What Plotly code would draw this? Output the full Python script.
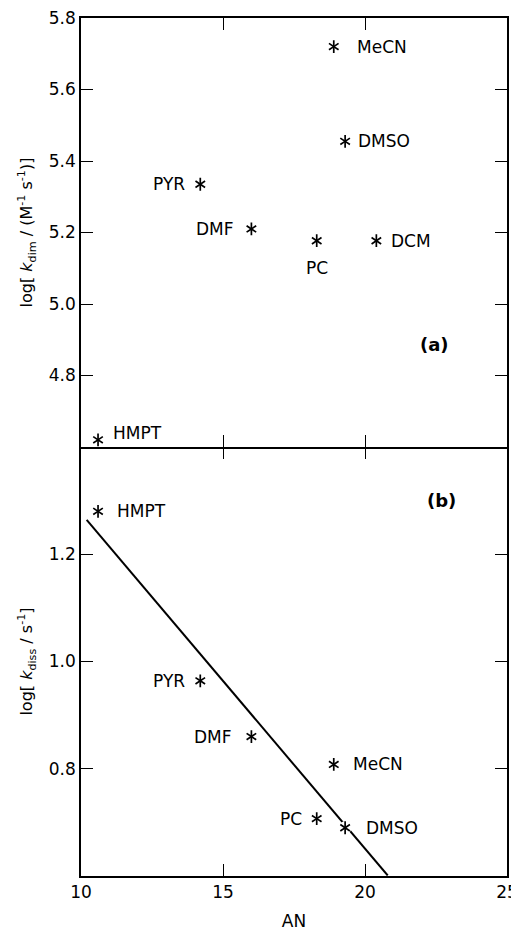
import plotly.graph_objects as go
from plotly.subplots import make_subplots

# ---- data (panel a) ----
solvents_a = ["MeCN", "DMSO", "PYR", "DMF", "PC", "DCM", "HMPT"]
an_a = [18.9, 19.3, 14.2, 16.0, 18.3, 20.4, 10.6]
logk_dim = [5.72, 5.455, 5.335, 5.21, 5.177, 5.177, 4.62]

# ---- data (panel b) ----
solvents_b = ["HMPT", "PYR", "DMF", "MeCN", "PC", "DMSO"]
an_b = [10.6, 14.2, 16.0, 18.9, 18.3, 19.3]
logk_diss = [1.28, 0.964, 0.86, 0.808, 0.707, 0.69]

# ---- regression line (panel b) ----
fit_an = [10.2, 20.8]
fit_logk = [1.264, 0.601]

x_range = [10, 25]
x_ticks = [10, 15, 20, 25]
y_ticks_a = [4.8, 5.0, 5.2, 5.4, 5.6, 5.8]
y_ticks_b = [0.8, 1.0, 1.2]

# label placement styles: (xanchor, xshift, yshift)
place_a = {
    "MeCN": ("left", 21, 0), "DMSO": ("left", 11, 0), "PYR": ("right", -13, 0),
    "DMF": ("right", -15, 0), "PC": ("center", 0, -27), "DCM": ("left", 13, 0),
    "HMPT": ("left", 13, 7),
}
place_b = {
    "HMPT": ("left", 17, 0), "PYR": ("right", -13, 0), "DMF": ("right", -17, 0),
    "MeCN": ("left", 17, 0), "PC": ("right", -13, 0), "DMSO": ("left", 19, 0),
}

FONT = "DejaVu Sans, Liberation Sans, sans-serif"
BLACK = "black"
LW = 1.5

fig = make_subplots(rows=2, cols=1, shared_xaxes=True, vertical_spacing=0)


def add_stars(xs, ys, row):
    for sym in ("y-up-open", "y-down-open"):
        fig.add_trace(go.Scatter(
            x=xs, y=ys, mode="markers",
            marker=dict(symbol=sym, size=8, color=BLACK,
                        line=dict(color=BLACK, width=1.7)),
            hoverinfo="skip", showlegend=False), row=row, col=1)


# panel a
add_stars(an_a, logk_dim, 1)

# panel b: line, white gap behind DMSO, then stars
fig.add_trace(go.Scatter(x=fit_an, y=fit_logk, mode="lines",
                         line=dict(color=BLACK, width=2), hoverinfo="skip",
                         showlegend=False), row=2, col=1)
i_dmso = solvents_b.index("DMSO")
fig.add_trace(go.Scatter(x=[an_b[i_dmso]], y=[logk_diss[i_dmso]], mode="markers",
                         marker=dict(symbol="circle", size=13, color="white"),
                         hoverinfo="skip", showlegend=False), row=2, col=1)
add_stars(an_b, logk_diss, 2)

# invisible trace carrying the top-edge tick axis of panel b
fig.add_trace(go.Scatter(x=x_range, y=[0.6, 0.6], xaxis="x3", yaxis="y2",
                         mode="markers", marker=dict(opacity=0),
                         hoverinfo="skip", showlegend=False))

annotations = []
for name, xv, yv in zip(solvents_a, an_a, logk_dim):
    anc, xs, ys = place_a[name]
    annotations.append(dict(x=xv, y=yv, xref="x", yref="y", text=name,
                            showarrow=False, xanchor=anc, yanchor="middle",
                            xshift=xs, yshift=ys,
                            font=dict(family=FONT, size=17, color=BLACK)))
for name, xv, yv in zip(solvents_b, an_b, logk_diss):
    anc, xs, ys = place_b[name]
    annotations.append(dict(x=xv, y=yv, xref="x2", yref="y2", text=name,
                            showarrow=False, xanchor=anc, yanchor="middle",
                            xshift=xs, yshift=ys,
                            font=dict(family=FONT, size=17, color=BLACK)))
annotations.append(dict(x=22.45, y=4.886, xref="x", yref="y", text="<b>(a)</b>",
                        showarrow=False, font=dict(family=FONT, size=18, color=BLACK)))
annotations.append(dict(x=22.7, y=1.30, xref="x2", yref="y2", text="<b>(b)</b>",
                        showarrow=False, font=dict(family=FONT, size=18, color=BLACK)))

axis_common = dict(showline=True, linecolor=BLACK, linewidth=LW, mirror="ticks",
                   ticks="inside", ticklen=12, tickwidth=1.2, tickcolor=BLACK,
                   showgrid=False, zeroline=False, automargin=False,
                   ticklabeloverflow="allow",
                   tickfont=dict(family=FONT, size=17, color=BLACK))

fig.update_xaxes(range=x_range, tickvals=x_ticks, **axis_common)
fig.update_xaxes(showticklabels=False, row=1, col=1)
# bottom panel: no mirrored top line (the top panel's axis line is the border)
fig.update_xaxes(mirror=False,
                 title=dict(text="AN", standoff=14,
                            font=dict(family=FONT, size=17, color=BLACK)),
                 row=2, col=1)
fig.update_yaxes(**axis_common)
fig.update_yaxes(range=[4.6, 5.8], tickvals=y_ticks_a, tickformat=".1f",
                 title=dict(text="log[ <i>k</i><sub>dim</sub> / (M<sup>-1</sup> s<sup>-1</sup>)]",
                            standoff=12,
                            font=dict(family=FONT, size=16, color=BLACK)),
                 row=1, col=1)
fig.update_yaxes(range=[0.6, 1.4], tickvals=y_ticks_b, tickformat=".1f",
                 title=dict(text="log[ <i>k</i><sub>diss</sub> / s<sup>-1</sup>]",
                            standoff=12,
                            font=dict(family=FONT, size=16, color=BLACK)),
                 row=2, col=1)

# the page body has an 8 px default margin, so the figure is sized/offset for it
fig.update_layout(
    xaxis3=dict(overlaying="x2", side="top", anchor="y2", range=x_range,
                tickvals=x_ticks, showline=False, ticks="inside", ticklen=12,
                tickwidth=1.2, tickcolor=BLACK, showticklabels=False,
                showgrid=False, zeroline=False, automargin=False),
    width=511, height=925,
    margin=dict(l=73, r=12, t=10, b=57),
    paper_bgcolor="white", plot_bgcolor="white",
    showlegend=False, annotations=annotations,
    font=dict(family=FONT, color=BLACK))

fig.write_html("out.html")
